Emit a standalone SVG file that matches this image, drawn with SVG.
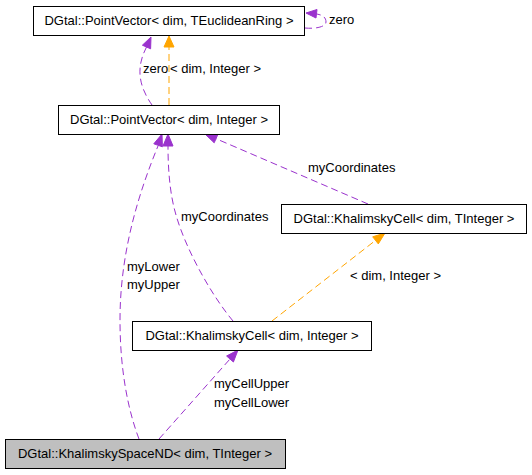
<svg xmlns="http://www.w3.org/2000/svg" width="532" height="475" viewBox="0 0 532 475">
<style>
  .node rect { fill: #ffffff; stroke: #000000; stroke-width: 1; }
  .node.main rect { fill: #bfbfbf; }
  text { font-family: "Liberation Sans", Arial, sans-serif; font-size: 13px; fill: #000000; }
  .ntext { text-anchor: middle; }
  .purple { fill: none; stroke: #9a32cd; stroke-width: 1; stroke-dasharray: 7,4; }
  .orange { fill: none; stroke: #ffa500; stroke-width: 1; stroke-dasharray: 7,4; }
  .headp { fill: #9a32cd; stroke: #9a32cd; stroke-width: 1; }
  .heado { fill: #ffa500; stroke: #ffa500; stroke-width: 1; }
</style>
<rect width="532" height="475" fill="#ffffff"/>
<g id="connectors">
  <!-- self loop zero on PointVector<dim,TEuclideanRing> -->
  <path class="purple" d="M305,28 C315,29 326,27 326,22 C326,17 322,15 317,14"/>
  <polygon class="headp" points="306,13 317,9.5 316,18"/>
  <text x="329" y="24">zero</text>
  <!-- zero: PointVector<dim,Integer> -> PointVector<dim,TEuclideanRing> -->
  <path class="purple" d="M152,105 C145,95 137,80 141,62 C142,57 144,52 146.5,47"/>
  <polygon class="headp" points="151,37 142.4,45.2 150.6,48.8"/>
  <text x="143" y="73">zero</text>
  <!-- template instance -->
  <path class="orange" d="M169,105 L169,47"/>
  <polygon class="heado" points="169,36 164,47 174,47"/>
  <text x="170" y="73">&lt; dim, Integer &gt;</text>
  <!-- myCoordinates: KhalimskyCell<dim,TInteger> -> PointVector<dim,Integer> -->
  <path class="purple" d="M368,204 L216,138.7"/>
  <polygon class="headp" points="205,134 217.8,134.6 214.2,142.8"/>
  <text x="308" y="172">myCoordinates</text>
  <!-- myCoordinates: KhalimskyCell<dim,Integer> -> PointVector<dim,Integer> -->
  <path class="purple" d="M233,321 C212,296 186,250 176,215 C170,195 168,170 168,146"/>
  <polygon class="headp" points="168,134 163,146 173,146"/>
  <text x="181" y="221">myCoordinates</text>
  <!-- myLower/myUpper: KhalimskySpaceND -> PointVector<dim,Integer> -->
  <path class="purple" d="M139,439 C128,410 120,370 120,320 C120,250 140,190 158,146"/>
  <polygon class="headp" points="162,134 153.8,143.8 162.4,146.8"/>
  <text x="127" y="271">myLower</text>
  <text x="127" y="289">myUpper</text>
  <!-- template instance KhalimskyCell -->
  <path class="orange" d="M272,321 L375.5,240.4"/>
  <polygon class="heado" points="385,233 372.7,236.8 378.3,243.9"/>
  <text x="350" y="280">&lt; dim, Integer &gt;</text>
  <!-- myCellUpper/myCellLower -->
  <path class="purple" d="M159,439 L230,359"/>
  <polygon class="headp" points="238,350 226.6,356 233.4,362"/>
  <text x="214" y="388">myCellUpper</text>
  <text x="214" y="407">myCellLower</text>
</g>
<g id="node_pv_ring" class="node">
  <rect x="33.5" y="6.5" width="271" height="29"/>
  <text class="ntext" x="169" y="25">DGtal::PointVector&lt; dim, TEuclideanRing &gt;</text>
</g>
<g id="node_pv_int" class="node">
  <rect x="58.5" y="105.5" width="221" height="29"/>
  <text class="ntext" x="169" y="124">DGtal::PointVector&lt; dim, Integer &gt;</text>
</g>
<g id="node_kc_tint" class="node">
  <rect x="281.5" y="204.5" width="245" height="29"/>
  <text class="ntext" x="404" y="223">DGtal::KhalimskyCell&lt; dim, TInteger &gt;</text>
</g>
<g id="node_kc_int" class="node">
  <rect x="132.5" y="321.5" width="239" height="29"/>
  <text class="ntext" x="252" y="340">DGtal::KhalimskyCell&lt; dim, Integer &gt;</text>
</g>
<g id="node_ksnd" class="node main">
  <rect x="5.5" y="439.5" width="280" height="29"/>
  <text class="ntext" x="145" y="458">DGtal::KhalimskySpaceND&lt; dim, TInteger &gt;</text>
</g>
</svg>
